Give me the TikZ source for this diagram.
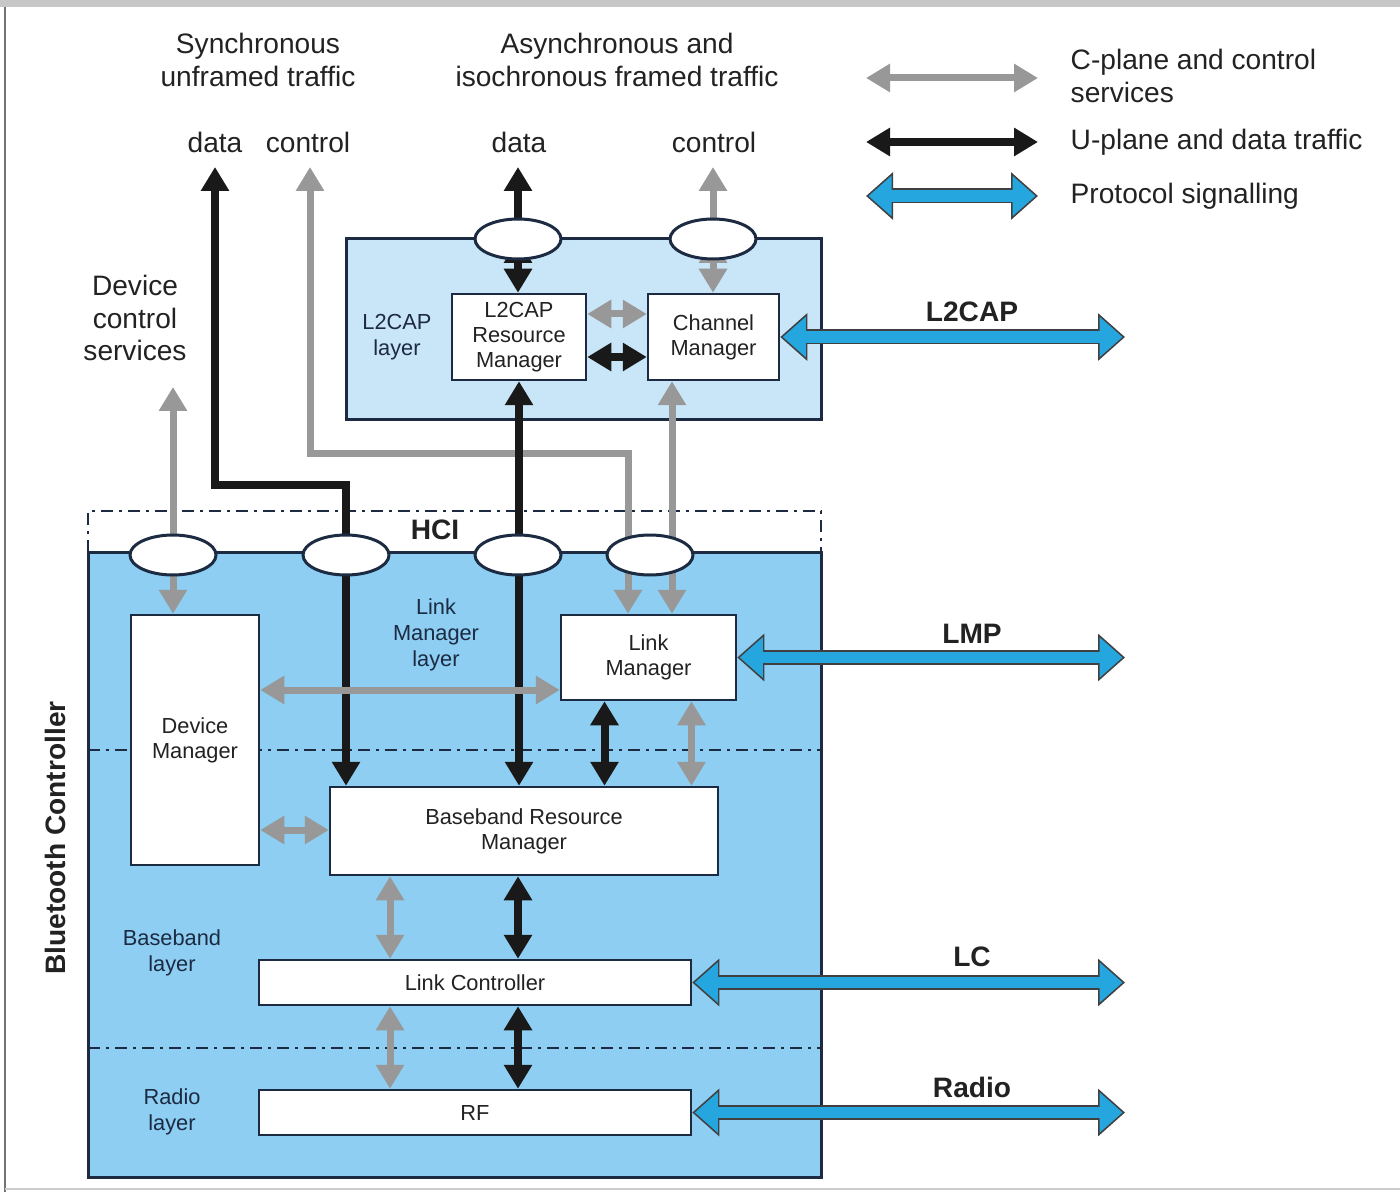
\documentclass[tikz,border=0pt]{standalone}
\usepackage{fontspec}
\setmainfont{Liberation Sans}
\usetikzlibrary{arrows.meta,shapes.geometric,positioning}
\definecolor{ctrlblue}{RGB}{141,206,242}
\definecolor{layerblue}{RGB}{201,229,248}
\definecolor{sigblue}{RGB}{38,166,222}
\definecolor{ctlgrey}{RGB}{152,152,152}
\definecolor{inkgrey}{RGB}{34,34,34}
\definecolor{navy}{RGB}{28,42,66}
\pgfdeclarelayer{bg}
\pgfdeclarelayer{fg}
\pgfsetlayers{bg,main,fg}
\tikzset{
  box/.style={draw=navy, fill=white, line width=0.25mm, inner sep=0pt, align=center,
    text=inkgrey, font=\fontsize{6.2}{7.1}\selectfont},
  port/.style={ellipse, draw=navy, fill=white, line width=0.3mm,
    minimum width=8.6mm, minimum height=4mm, inner sep=0pt},
  laylbl/.style={align=center, text=navy, font=\fontsize{6.2}{7.3}\selectfont},
  toplbl/.style={align=center, text=inkgrey, font=\fontsize{8}{9.3}\selectfont},
  lgtxt/.style={anchor=west, align=left, inner sep=0pt, text=inkgrey, font=\fontsize{8}{9.2}\selectfont},
  siglbl/.style={text=inkgrey, font=\bfseries\fontsize{8}{9}\selectfont},
  sepline/.style={navy, line width=0.25mm, dash pattern=on 1.2mm off 0.6mm on 0.3mm off 0.6mm},
  ctl/.style={draw=ctlgrey, line width=0.7mm},
  dat/.style={draw=black!90, line width=0.8mm},
  sig/.style={draw=sigblue, line width=1.15mm, shorten <=0.25mm, shorten >=0.25mm,
    {Triangle[length=2.3mm,width=3.9mm]}-{Triangle[length=2.3mm,width=3.9mm]},
    preaction={draw=black!75, line width=1.5mm, shorten <=0pt, shorten >=0pt,
      {Triangle[length=2.7mm,width=4.6mm]}-{Triangle[length=2.7mm,width=4.6mm]}}}
}
\begin{document}
\begin{tikzpicture}[x=0.1mm,y=-0.1mm,>={Triangle[length=2.4mm,width=2.7mm]}]
\useasboundingbox (0,0) rectangle (1400,1192);
%FRAME
\fill[black!22] (0,0) rectangle (1400,7);
\draw[black!55,line width=0.25mm] (5,7) -- (5,1192);
\draw[black!20,line width=0.25mm] (5,1189) -- (1400,1189);
%LAYERS
\begin{pgfonlayer}{bg}
  \fill[ctrlblue] (88,552) rectangle (821,1177);
  \draw[navy,line width=0.3mm] (88,552) rectangle (821,1177);
  \draw[sepline] (88,552) -- (88,511) -- (821,511) -- (821,552);
  \draw[sepline] (88,750) -- (821,750);
  \draw[sepline] (88,1048) -- (821,1048);
  \draw[navy,line width=0.3mm,fill=layerblue] (346,239) rectangle (821,420);
\end{pgfonlayer}
\node[laylbl] at (397,337) {L2CAP\\layer};
\node[laylbl] at (436,635) {Link\\Manager\\layer};
\node[laylbl] at (172,953) {Baseband\\layer};
\node[laylbl] at (172,1112) {Radio\\layer};
\node[siglbl] at (435,530) {HCI};
\node[siglbl,rotate=90] at (55,838) {Bluetooth Controller};
%BLOCKS
\node[box,minimum width=13.4mm,minimum height=8.6mm] (RM) at (519,337) {L2CAP\\Resource\\Manager};
\node[box,minimum width=13.1mm,minimum height=8.6mm] (CM) at (713.5,337) {Channel\\Manager};
\node[box,minimum width=12.8mm,minimum height=25mm] (DM) at (195,740) {Device\\Manager};
\node[box,minimum width=17.5mm,minimum height=8.5mm] (LM) at (648.5,657.5) {Link\\Manager};
\node[box,minimum width=38.8mm,minimum height=8.8mm] (BRM) at (524,831) {Baseband Resource\\Manager};
\node[box,minimum width=43.2mm,minimum height=4.5mm] (LC) at (475,982.5) {Link Controller};
\node[box,minimum width=43.2mm,minimum height=4.5mm] (RF) at (475,1112.5) {RF};
\begin{pgfonlayer}{fg}
  \foreach \n/\x/\y in {pd/518/239, pc/713/239, h1/173/555, h2/346/555, h3/518/555, h4/650/555}
    \node[port] (\n) at (\x,\y) {};
\end{pgfonlayer}
%SERVICE ACCESS
\node[toplbl] at (258,60) {Synchronous\\unframed traffic};
\node[toplbl] at (617,60) {Asynchronous and\\isochronous framed traffic};
\node[toplbl] at (135,318) {Device\\control\\services};
\node[toplbl] at (215,142) {data};
\node[toplbl] at (308,142) {control};
\node[toplbl] at (519,142) {data};
\node[toplbl] at (714,142) {control};
\coordinate (syncdata) at (215,167);
\coordinate (syncctl) at (310,167);
\coordinate (asyncdata) at (518,167);
\coordinate (asyncctl) at (713,167);
\coordinate (devctl) at (173,387);
\coordinate (databend) at (215,485);
\coordinate (ctlbend) at (628,453);
\coordinate (cmdown) at (672,453);
\coordinate (sigend) at (1125,0);
\draw[dat,<->] (syncdata) |- (h2 |- databend) -- (h2 |- BRM.north);
\draw[ctl,<->] (syncctl) |- (ctlbend) -- (ctlbend |- LM.north);
\draw[ctl,<->] (cmdown |- CM.south) -- (cmdown |- LM.north);
\draw[dat,<->] (RM.south) -- (RM.south |- BRM.north);
\draw[ctl,<->] (devctl) -- (devctl |- DM.north);
\draw[dat,<-] (asyncdata) -- (pd.center);
\draw[dat,<->] (pd.center) -- (pd.center |- RM.north);
\draw[ctl,<-] (asyncctl) -- (pc.center);
\draw[ctl,<->] (pc.center) -- (pc.center |- CM.north);
%INTERNAL
\draw[ctl,<->] ([yshift=2.3mm]RM.east) -- ([yshift=2.3mm]CM.west);
\draw[dat,<->] ([yshift=-2mm]RM.east) -- ([yshift=-2mm]CM.west);
\draw[ctl,<->] ([yshift=5mm]DM.east) -- ([yshift=5mm]DM.east -| LM.west);
\draw[ctl,<->] ([yshift=-9mm]DM.east) -- ([yshift=-9mm]DM.east -| BRM.west);
\draw[dat,<->] ([xshift=-4.4mm]LM.south) -- ([xshift=-4.4mm]LM.south |- BRM.north);
\draw[ctl,<->] ([xshift=4.3mm]LM.south) -- ([xshift=4.3mm]LM.south |- BRM.north);
\draw[ctl,<->] ([xshift=-8.5mm]LC.north) -- ([xshift=-8.5mm]LC.north |- BRM.south);
\draw[dat,<->] ([xshift=4.3mm]LC.north) -- ([xshift=4.3mm]LC.north |- BRM.south);
\draw[ctl,<->] ([xshift=-8.5mm]LC.south) -- ([xshift=-8.5mm]RF.north);
\draw[dat,<->] ([xshift=4.3mm]LC.south) -- ([xshift=4.3mm]RF.north);
%PROTOCOLS
\foreach \n in {CM,LM,LC,RF}
  \draw[sig] (\n.east) -- (\n.east -| sigend);
\foreach \y/\t in {312/L2CAP, 634/LMP, 957/LC, 1087/Radio}
  \node[siglbl] at (972,\y) {\t};
%LEGEND
\node[lgtxt] (lgc) at (1070,76) {C-plane and control\\services};
\node[lgtxt] (lgu) at (1070,142) {U-plane and data traffic};
\node[lgtxt] (lgp) at (1070,196) {Protocol signalling};
\draw[ctl,<->] ([xshift=-3.2mm,yshift=-0.2mm]lgc.west) -- ++(-172,0);
\draw[dat,<->] ([xshift=-3.2mm]lgu.west) -- ++(-172,0);
\draw[sig] ([xshift=-3.2mm]lgp.west) -- ++(-172,0);
\end{tikzpicture}
\end{document}
